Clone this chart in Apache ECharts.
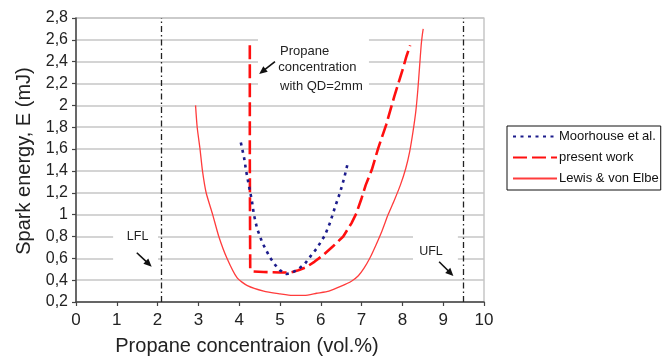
<!DOCTYPE html>
<html><head><meta charset="utf-8">
<script src="https://cdn.jsdelivr.net/npm/echarts@6.0.0/dist/echarts.min.js"></script>
<style>html,body{margin:0;padding:0;background:#fff}#c{width:669px;height:357px}</style>
</head><body><div id="c"></div>
<script>
// ---- data ----
const seriesNames = ['Moorhouse et al.', 'present work', 'Lewis & von Elbe'];
const moorhouseX = [4.04,4.12,4.17,4.24,4.31,4.36,4.44,4.57,4.75,4.88,5.0,5.16,5.3,5.45,5.61,5.75,5.9,6.1,6.23,6.35,6.47,6.57,6.66];
const moorhouseY = [1.66,1.52,1.40,1.26,1.13,1.00,0.87,0.74,0.61,0.54,0.49,0.456,0.47,0.50,0.55,0.62,0.69,0.81,0.93,1.07,1.20,1.33,1.47];
const presentX = [4.26,4.26,4.27,4.35,4.6,5.0,5.25,5.45,5.65,5.85,6.06,6.3,6.55,6.75,6.87,7.0,7.1,7.25,7.4,7.6,7.8,8.0,8.1,8.19];
const presentY = [2.55,1.50,0.50,0.48,0.475,0.47,0.47,0.49,0.52,0.57,0.63,0.71,0.80,0.92,1.01,1.15,1.27,1.41,1.60,1.82,2.08,2.32,2.45,2.55];
const lewisX = [2.93,2.97,3.04,3.10,3.19,3.35,3.50,3.70,3.95,4.20,4.60,5.00,5.30,5.60,5.90,6.20,6.50,6.75,6.92,7.06,7.20,7.35,7.50,7.65,7.80,7.95,8.08,8.18,8.26,8.33,8.38,8.42,8.46,8.49,8.51];
const lewisY = [2.00,1.80,1.60,1.40,1.20,1.00,0.80,0.60,0.42,0.35,0.30,0.275,0.26,0.26,0.28,0.30,0.345,0.39,0.44,0.51,0.60,0.72,0.85,1.00,1.13,1.27,1.42,1.58,1.76,1.95,2.15,2.35,2.55,2.65,2.70];
const xTickValues = [0,1,2,3,4,5,6,7,8,9,10];
const xTickLabels = ['0','1','2','3','4','5','6','7','8','9','10'];
const yTickValues = [0.2,0.4,0.6,0.8,1.0,1.2,1.4,1.6,1.8,2.0,2.2,2.4,2.6,2.8];
const yTickLabels = ['0,2','0,4','0,6','0,8','1','1,2','1,4','1,6','1,8','2','2,2','2,4','2,6','2,8'];
const limitNames = ['LFL', 'UFL'];
const limitValues = [2.1, 9.5];
const xTitle = 'Propane concentraion (vol.%)';
const yTitle = 'Spark energy, E (mJ)';
const noteLines = ['Propane', 'concentration', 'with QD=2mm'];

function zip(a, b) { return a.map((v, i) => [v, b[i]]); }
function lookup(vals, labels, v) {
  for (let i = 0; i < vals.length; i++) if (Math.abs(vals[i] - v) < 1e-6) return labels[i];
  return '';
}

const FONT = 'Liberation Sans, Arial, sans-serif';
const chart = echarts.init(document.getElementById('c'), null, {renderer: 'canvas'});
chart.setOption({
  animation: false,
  backgroundColor: '#fff',
  grid: {left: 76, top: 18, right: 185, bottom: 55, show: true, borderColor: '#b8b8b8', borderWidth: 1.2, backgroundColor: 'transparent'},
  legend: {
    orient: 'vertical', left: 507, top: 126,
    data: seriesNames,
    itemWidth: 44, itemHeight: 14, itemGap: 8,
    padding: [4, 2, 5, 5],
    borderColor: '#111', borderWidth: 1,
    itemStyle: {opacity: 0},
    textStyle: {fontFamily: FONT, fontSize: 13, color: '#111', padding: [0,0,0,-3]},
    backgroundColor: '#fff'
  },
  xAxis: {
    type: 'value', min: 0, max: 10, interval: 1,
    axisLine: {show: true, lineStyle: {color: '#444', width: 1.5}},
    axisTick: {show: true, inside: false, length: 4, lineStyle: {color: '#444', width: 1.2}},
    axisLabel: {fontFamily: FONT, fontSize: 17, color: '#222', margin: 10,
      formatter: v => lookup(xTickValues, xTickLabels, v)},
    splitLine: {show: false}
  },
  yAxis: {
    type: 'value', min: 0.2, max: 2.8, interval: 0.2,
    axisLine: {show: true, onZero: false, lineStyle: {color: '#444', width: 1.5}},
    axisTick: {show: true, length: 4, lineStyle: {color: '#444', width: 1.2}},
    axisLabel: {fontFamily: FONT, fontSize: 16, color: '#222', margin: 8,
      formatter: v => lookup(yTickValues, yTickLabels, v)},
    splitLine: {show: true, lineStyle: {color: '#c6c6c6', width: 1.6}}
  },
  series: [
    {name: seriesNames[0], type: 'line', data: zip(moorhouseX, moorhouseY), showSymbol: false, symbol: 'none',
     lineStyle: {color: '#1c1c8c', width: 2.6, type: [3, 4.5], cap: 'butt'}, itemStyle: {color: '#3a3ab0'}, z: 4},
    {name: seriesNames[1], type: 'line', data: zip(presentX, presentY), showSymbol: false, symbol: 'none',
     lineStyle: {color: '#ff0f0f', width: 2.6, type: [14, 5], cap: 'butt'}, itemStyle: {color: '#ff0f0f'}, z: 3},
    {name: seriesNames[2], type: 'line', data: zip(lewisX, lewisY), showSymbol: false, symbol: 'none', smooth: 0.2,
     lineStyle: {color: '#ff3c3c', width: 1.3}, itemStyle: {color: '#ff3c3c'}, z: 2,
     markLine: {silent: true, symbol: ['none', 'none'], label: {show: false},
       lineStyle: {color: '#222', width: 1.3, type: [6, 3, 1.5, 3]},
       data: limitValues.map(v => ({xAxis: v}))}}
  ]
});

// ---- annotations placed in data coordinates ----
const P = (x, y) => chart.convertToPixel({gridIndex: 0}, [x, y]);
function rectFromData(x0, y0, x1, y1) {
  const a = P(x0, y0), b = P(x1, y1);
  return {type: 'rect', z: 1, silent: true,
    shape: {x: Math.min(a[0], b[0]), y: Math.min(a[1], b[1]), width: Math.abs(b[0] - a[0]), height: Math.abs(b[1] - a[1])},
    style: {fill: '#fff'}};
}
function arrowFromData(x0, y0, x1, y1) {
  const a = P(x0, y0), b = P(x1, y1);
  const dx = b[0] - a[0], dy = b[1] - a[1], L = Math.hypot(dx, dy);
  const ux = dx / L, uy = dy / L, nx = -uy, ny = ux;
  const hl = 8, hw = 3.6;
  const bx = b[0] - ux * hl, by = b[1] - uy * hl;
  return [
    {type: 'line', z: 5, silent: true, shape: {x1: a[0], y1: a[1], x2: bx + ux * 1, y2: by + uy * 1}, style: {stroke: '#111', lineWidth: 1.6}},
    {type: 'polygon', z: 5, silent: true, shape: {points: [[b[0], b[1]], [bx + nx * hw, by + ny * hw], [bx - nx * hw, by - ny * hw]]}, style: {fill: '#111'}}
  ];
}
function textAt(x, y, s, size, align) {
  const p = P(x, y);
  return {type: 'text', z: 6, silent: true, x: p[0], y: p[1],
    style: {text: s, fill: '#222', font: size + 'px ' + FONT, align: align || 'center', verticalAlign: 'middle'}};
}
const g = [];
g.push(rectFromData(0.91, 0.90, 2.01, 0.49));
g.push(rectFromData(8.26, 0.90, 9.36, 0.49));
g.push(rectFromData(4.46, 2.69, 7.18, 2.06));
g.push(textAt(1.51, 0.80, limitNames[0], 12.5));
g.push(textAt(8.70, 0.665, limitNames[1], 12.5));
g.push(...arrowFromData(1.49, 0.651, 1.855, 0.523));
g.push(...arrowFromData(8.90, 0.569, 9.25, 0.438));
g.push(textAt(5.0, 2.492, noteLines[0], 13, 'left'));
g.push(textAt(4.96, 2.346, noteLines[1], 13, 'left'));
g.push(textAt(5.0, 2.178, noteLines[2], 13, 'left'));
g.push(...arrowFromData(4.877, 2.40, 4.49, 2.288));
// axis titles
g.push({type: 'text', z: 6, silent: true, x: 247, y: 346,
  style: {text: xTitle, fill: '#222', font: '20px ' + FONT, align: 'center', verticalAlign: 'middle'}});
g.push({type: 'text', z: 6, silent: true, x: 24, y: 161, rotation: Math.PI / 2,
  style: {text: yTitle, fill: '#222', font: '20px ' + FONT, align: 'center', verticalAlign: 'middle'}});
chart.setOption({graphic: {elements: g}});
</script>
</body></html>
